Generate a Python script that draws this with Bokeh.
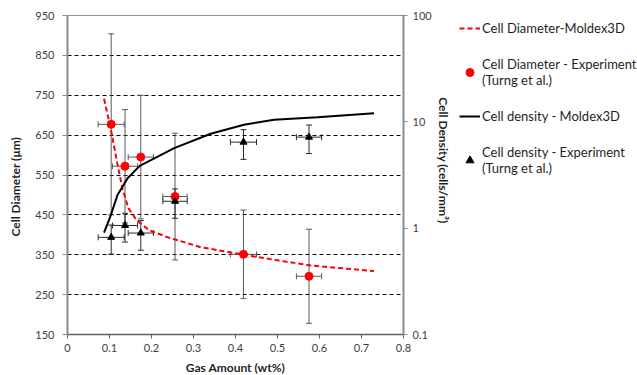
import math
from bokeh.plotting import figure
from bokeh.layouts import row
from bokeh.models import (Range1d, LogScale, LogAxis, FixedTicker, Legend, LegendItem)
from bokeh.embed import file_html
from bokeh.resources import INLINE

# ---------------- data ----------------
GAS_EXP = [0.104, 0.137, 0.1745, 0.256, 0.419, 0.575]
GAS_ERR = [0.031, 0.030, 0.030, 0.029, 0.031, 0.030]
DIAM_EXP = [677, 572, 595, 496, 351, 296]
DIAM_ERR = [227, 142, 155, 159, 111, 118]
DENS_EXP = [0.82, 1.06, 0.90, 1.79, 6.44, 7.18]
DENS_ERR = [0.25, 0.32, 0.28, 0.55, 2.0, 2.15]

DIAM_SIM_GAS = [0.087, 0.103, 0.118, 0.131, 0.145, 0.165, 0.194, 0.238, 0.317, 0.420, 0.500, 0.579, 0.730]
DIAM_SIM = [741, 666, 582, 515, 467, 436, 412, 394, 369, 350, 336, 323, 309]

DENS_SIM_GAS = [0.087, 0.103, 0.119, 0.143, 0.172, 0.254, 0.341, 0.420, 0.492, 0.595, 0.730]
DENS_SIM = [0.906, 1.32, 2.05, 2.95, 3.85, 5.66, 7.73, 9.4, 10.47, 11.07, 12.07]

X_TICKS = [0, 0.1, 0.2, 0.3, 0.4, 0.5, 0.6, 0.7, 0.8]
X_TICK_LABELS = ["0", "0.1", "0.2", "0.3", "0.4", "0.5", "0.6", "0.7", "0.8"]
Y_TICKS = [150, 250, 350, 450, 550, 650, 750, 850, 950]
Y2_TICKS = [0.1, 1, 10, 100]
Y2_TICK_LABELS = ["0.1", "1", "10", "100"]

SERIES_NAMES = ["Cell Diameter-Moldex3D",
                "Cell Diameter - Experiment\n(Turng et al.)",
                "Cell density - Moldex3D",
                "Cell density - Experiment\n(Turng et al.)"]
X_TITLE = "Gas Amount (wt%)"
Y_TITLE = "Cell Diameter (\u03bcm)"
Y2_TITLE = "Cell Density (cells/mm\u00b3)"

# ---------------- styling constants ----------------
FONT = "Lato"
RED = "#FF0000"
AXIS_GRAY = "#8c8c8c"
TICK_TEXT = "#404040"
TEXT = "#1f1f1f"
NBSP = "\u00a0"

DIAM_LINE = dict(line_color=RED, line_width=2, line_dash="5 3")
DENS_LINE = dict(line_color="black", line_width=2)
DIAM_MARK = dict(marker="circle", fill_color=RED, line_color=RED)
DENS_MARK = dict(marker="triangle", fill_color="black", line_color="black")

p = figure(frame_width=336, frame_height=319,
           x_range=Range1d(X_TICKS[0], X_TICKS[-1]),
           y_range=Range1d(Y_TICKS[0], Y_TICKS[-1]),
           output_backend="svg", toolbar_location=None, title=None,
           min_border_left=67, min_border_right=47,
           min_border_top=15, min_border_bottom=41)
p.extra_y_ranges = {"dens": Range1d(Y2_TICKS[0], Y2_TICKS[-1])}
p.extra_y_scales = {"dens": LogScale()}

p.background_fill_color = "white"
p.border_fill_color = "white"
p.outline_line_color = AXIS_GRAY
p.outline_line_width = 1

# grid
p.xgrid.visible = False
p.ygrid.ticker = FixedTicker(ticks=Y_TICKS[1:-1])
p.ygrid.grid_line_color = "black"
p.ygrid.grid_line_dash = "4 3"
p.ygrid.grid_line_width = 1

# ---------------- error bars ----------------
def add_errorbars(xs, ys, xerr, yerr, color, **kw):
    lo = [y - e for y, e in zip(ys, yerr)]
    hi = [y + e for y, e in zip(ys, yerr)]
    left = [x - e for x, e in zip(xs, xerr)]
    right = [x + e for x, e in zip(xs, xerr)]
    p.segment(x0=xs, y0=lo, x1=xs, y1=hi, line_color=color, line_width=1, **kw)
    p.scatter(x=xs + xs, y=lo + hi, marker="dash", size=6, line_color=color,
              line_width=1, **kw)
    p.segment(x0=left, y0=ys, x1=right, y1=ys, line_color=color, line_width=1, **kw)
    p.scatter(x=left + right, y=ys + ys, marker="dash", angle=math.pi / 2, size=6,
              line_color=color, line_width=1, **kw)

add_errorbars(GAS_EXP, DIAM_EXP, GAS_ERR, DIAM_ERR, "#5a5a5a")
add_errorbars(GAS_EXP, DENS_EXP, GAS_ERR, DENS_ERR, "#2a2a2a", y_range_name="dens")

# ---------------- simulation curves ----------------
p.line(DIAM_SIM_GAS, DIAM_SIM, **DIAM_LINE)
p.line(DENS_SIM_GAS, DENS_SIM, y_range_name="dens", **DENS_LINE)

# ---------------- experiment markers ----------------
p.scatter(GAS_EXP, DIAM_EXP, size=8, **DIAM_MARK)
p.scatter(GAS_EXP, DENS_EXP, size=7, y_range_name="dens", **DENS_MARK)

# ---------------- axes ----------------
def style_axis(ax, line_color, line_width):
    ax.axis_line_color = line_color
    ax.axis_line_width = line_width
    ax.major_tick_line_color = line_color
    ax.major_tick_line_width = 1
    ax.major_tick_in = 0
    ax.minor_tick_line_color = None
    ax.major_label_text_font = FONT
    ax.major_label_text_font_size = "11px"
    ax.major_label_text_color = TICK_TEXT
    ax.axis_label_text_font = FONT
    ax.axis_label_text_font_size = "12px"
    ax.axis_label_text_font_style = "bold"
    ax.axis_label_text_color = TEXT

xax = p.below[0]
xax.ticker = FixedTicker(ticks=X_TICKS)
xax.major_label_overrides = dict(zip(X_TICKS, X_TICK_LABELS))
style_axis(xax, "#5f5f5f", 1.5)
xax.major_tick_out = 4
xax.major_label_standoff = 5
xax.axis_label = X_TITLE
xax.axis_label_standoff = 5

yax = p.left[0]
yax.ticker = FixedTicker(ticks=Y_TICKS)
style_axis(yax, AXIS_GRAY, 2)
yax.major_tick_out = 5
yax.major_label_standoff = 8
yax.axis_label = Y_TITLE + NBSP * 8
yax.axis_label_standoff = 9

y2ax = LogAxis(y_range_name="dens", ticker=FixedTicker(ticks=Y2_TICKS))
y2ax.major_label_overrides = dict(zip(Y2_TICKS, Y2_TICK_LABELS))
style_axis(y2ax, AXIS_GRAY, 2)
y2ax.major_tick_out = 4
y2ax.major_label_standoff = 5
y2ax.axis_label = Y2_TITLE + NBSP * 10
y2ax.axis_label_standoff = 1
p.add_layout(y2ax, "right")

# ---------------- legend panel (separate figure; off-range sample glyphs) ----------------
leg = figure(width=187, height=375, x_range=Range1d(0, 1), y_range=Range1d(0, 1),
             x_axis_type=None, y_axis_type=None, output_backend="svg",
             toolbar_location=None, title=None,
             min_border_left=0, min_border_right=0, min_border_top=0,
             min_border_bottom=0)
leg.outline_line_color = None
leg.grid.visible = False
OFF = [-5, -4]  # outside the legend figure's range, never visible
s1 = leg.line(OFF, OFF, **DIAM_LINE)
s2 = leg.scatter(OFF, OFF, size=6, **DIAM_MARK)
s3 = leg.line(OFF, OFF, **DENS_LINE)
s4 = leg.scatter(OFF, OFF, size=6, **DENS_MARK)

legend = Legend(items=[LegendItem(label=SERIES_NAMES[0], renderers=[s1]),
                       LegendItem(label=SERIES_NAMES[1], renderers=[s2]),
                       LegendItem(label=SERIES_NAMES[2], renderers=[s3]),
                       LegendItem(label=SERIES_NAMES[3], renderers=[s4])],
                location=(6, 156), padding=0, spacing=18, margin=0,
                glyph_width=21, glyph_height=20, label_height=20, label_standoff=2,
                border_line_color=None, background_fill_alpha=0,
                label_text_font=FONT, label_text_font_size="13px",
                label_text_color=TEXT)
leg.add_layout(legend, "center")

open("out.html", "w").write(file_html(row(p, leg), INLINE))
